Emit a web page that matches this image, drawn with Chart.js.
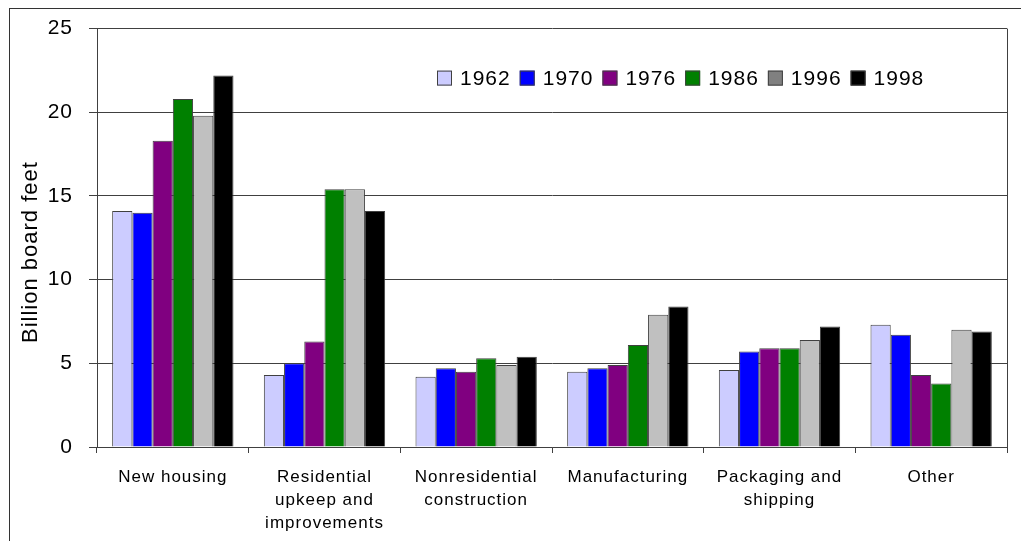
<!DOCTYPE html>
<html lang="en">
<head>
    <meta charset="UTF-8">
    <title>Lumber use by end market</title>
    <style>
        body {
            margin: 0;
            padding: 0;
            background-color: #fff;
            overflow: hidden;
        }

        #wrap {
            position: relative;
            width: 1021px;
            height: 541px;
        }

        /* outer chart frame, runs off the right and bottom edges */
        #frame {
            position: absolute;
            left: 9px;
            top: 8px;
            width: 1100px;
            height: 600px;
            border: 1px solid #333;
            pointer-events: none;
        }
    </style>
    <script src="https://cdn.jsdelivr.net/npm/chart.js"></script>
</head>
<body>

<div id="wrap">
    <canvas id="lumberChart" width="1021" height="541"></canvas>
    <div id="frame"></div>
</div>

<script>
    const categories = [
        'New housing',
        ['Residential', 'upkeep and', 'improvements'],
        ['Nonresidential', 'construction'],
        'Manufacturing',
        ['Packaging and', 'shipping'],
        'Other'
    ];

    const years = ['1962', '1970', '1976', '1986', '1996', '1998'];

    const values1962 = [14.1, 4.3, 4.2, 4.5, 4.6, 7.3];
    const values1970 = [14.0, 5.0, 4.7, 4.7, 5.7, 6.7];
    const values1976 = [18.3, 6.3, 4.5, 4.9, 5.9, 4.3];
    const values1986 = [20.8, 15.4, 5.3, 6.1, 5.9, 3.8];
    const values1996 = [19.8, 15.4, 4.9, 7.9, 6.4, 7.0];
    const values1998 = [22.2, 14.1, 5.4, 8.4, 7.2, 6.9];

    const barColors = ['#CCCCFF', '#0000FF', '#800080', '#008000', '#C0C0C0', '#000000'];
    const keyColors = ['#CCCCFF', '#0000FF', '#800080', '#008000', '#808080', '#000000'];

    const yTicks = [0, 5, 10, 15, 20, 25];

    const FONT = '"Liberation Sans", Arial, sans-serif';
    const INK = '#000';
    const LINE = '#404040';

    const series = [values1962, values1970, values1976, values1986, values1996, values1998];

    const datasets = series.map((vals, i) => ({
        label: years[i],
        data: vals,
        backgroundColor: barColors[i],
        borderColor: LINE,
        borderWidth: 1,
        keyColor: keyColors[i],
        categoryPercentage: 0.8,
        barPercentage: 1.0
    }));

    // slightly spaced-out lettering, like the old office chart renderer
    const spacing = {
        id: 'spacing',
        beforeLayout(chart) { chart.ctx.letterSpacing = '1px'; },
        beforeDraw(chart) { chart.ctx.letterSpacing = '1px'; }
    };

    // year key drawn inside the plot, one row
    const yearKey = {
        id: 'yearKey',
        afterDatasetsDraw(chart, args, opts) {
            const ctx = chart.ctx;
            const area = chart.chartArea;
            let x = area.left + opts.offsetX;
            const top = area.top + opts.offsetY;
            ctx.save();
            ctx.letterSpacing = '1px';
            ctx.font = opts.size + 'px ' + FONT;
            ctx.textBaseline = 'middle';
            ctx.textAlign = 'left';
            chart.data.datasets.forEach(ds => {
                ctx.fillStyle = ds.keyColor;
                ctx.fillRect(x, top, opts.box, opts.box);
                ctx.strokeStyle = LINE;
                ctx.lineWidth = 1;
                ctx.strokeRect(x + 0.5, top + 0.5, opts.box - 1, opts.box - 1);
                ctx.fillStyle = INK;
                const tx = x + opts.box + opts.gap;
                ctx.fillText(ds.label, tx, top + opts.box / 2 + 1);
                x = tx + ctx.measureText(ds.label).width + opts.after;
            });
            ctx.restore();
        }
    };

    const ctx = document.getElementById('lumberChart').getContext('2d');
    new Chart(ctx, {
        type: 'bar',
        data: {
            labels: categories,
            datasets: datasets
        },
        plugins: [spacing, yearKey],
        options: {
            responsive: false,
            animation: false,
            devicePixelRatio: 1,
            layout: {
                padding: { left: 18, top: 28, right: 14, bottom: 0 }
            },
            plugins: {
                legend: { display: false },
                tooltip: { enabled: false },
                yearKey: { offsetX: 340, offsetY: 42, box: 15, gap: 8, after: 9, size: 21 }
            },
            scales: {
                x: {
                    grid: {
                        offset: true,
                        drawOnChartArea: true,
                        // only the closing line on the right edge shows inside the plot
                        color: c => c.tick ? 'rgba(0,0,0,0)' : LINE,
                        tickColor: LINE,
                        tickLength: 6,
                        lineWidth: 1
                    },
                    border: { display: true, color: LINE },
                    ticks: {
                        color: INK,
                        font: { family: FONT, size: 17, lineHeight: 1.35 },
                        padding: 13,
                        maxRotation: 0,
                        autoSkip: false
                    },
                    afterFit(scale) { scale.height = 94; }
                },
                y: {
                    min: 0,
                    max: 25,
                    afterBuildTicks(scale) {
                        scale.ticks = yTicks.map(v => ({ value: v }));
                    },
                    grid: {
                        color: LINE,
                        tickColor: LINE,
                        tickLength: 8,
                        lineWidth: 1
                    },
                    border: { display: true, color: LINE },
                    ticks: {
                        color: INK,
                        font: { family: FONT, size: 21 },
                        padding: 16
                    },
                    title: {
                        display: true,
                        text: 'Billion board feet    ',
                        color: INK,
                        font: { family: FONT, size: 22 },
                        padding: 0
                    },
                    afterFit(scale) { scale.width = 79; }
                }
            }
        }
    });
</script>
</body>
</html>
